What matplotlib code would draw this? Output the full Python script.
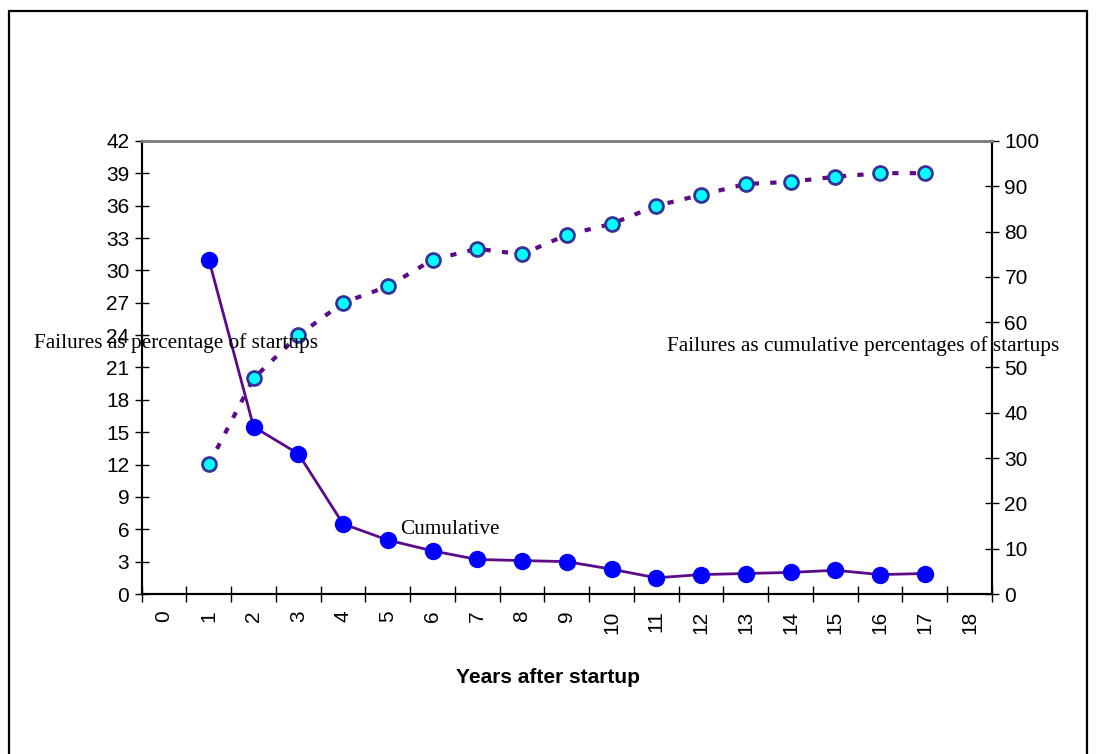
import matplotlib.pyplot as plt
from matplotlib.patches import Rectangle
import numpy as np

# data
categories = list(range(0, 19))
years = list(range(1, 18))
pct_failures = [31, 15.5, 13, 6.5, 5, 4, 3.2, 3.1, 3.0, 2.3, 1.5, 1.8, 1.9, 2.0, 2.2, 1.8, 1.9]
cum_failures = [28.6, 47.6, 57.1, 64.3, 67.9, 73.8, 76.2, 75.0, 79.3, 81.7, 85.7, 88.1, 90.5, 91.0, 92.1, 92.9, 92.9]
left_ticks = list(range(0, 43, 3))
right_ticks = list(range(0, 101, 10))

line_col = '#5c0a87'
sans = ['Liberation Sans', 'DejaVu Sans']
serif = ['Liberation Serif', 'DejaVu Serif']

fig = plt.figure(figsize=(10.97, 7.54), dpi=100)
ax = fig.add_axes([0.1292, 0.2122, 0.775, 0.6008])
ax2 = ax.twinx()

ax.plot(years, pct_failures, color=line_col, lw=2, marker='o', ms=11.5,
        mfc='#0000ff', mec='#0000ff', zorder=3, clip_on=False)
ax2.plot(years, cum_failures, color=line_col, lw=3, ls=(0, (1.5, 2.7)),
         marker='o', ms=10, mfc='#00ffff', mec='#333399', mew=2, zorder=3, clip_on=False)

ax.set_xlim(-0.5, 18.5)
ax.set_ylim(0, 42)
ax2.set_ylim(0, 100)
ax.set_yticks(left_ticks)
ax2.set_yticks(right_ticks)
ax.set_xticks(categories)
ax.set_xticklabels([str(c) for c in categories], rotation=90, family=sans, fontsize=15)
ax.set_xticks(np.arange(-0.5, 19, 1), minor=True)
ax.tick_params(axis='x', which='major', length=0, pad=12)
ax.tick_params(axis='x', which='minor', direction='inout', length=12, width=1)
ax.tick_params(axis='y', direction='inout', length=10, width=1, pad=4)
ax2.tick_params(axis='y', direction='inout', length=10, width=1, pad=4)
for lab in ax.get_yticklabels() + ax2.get_yticklabels():
    lab.set_family(sans)
    lab.set_fontsize(15)

for a in (ax, ax2):
    a.spines['top'].set_color('#808080')
    a.spines['top'].set_linewidth(2)
    a.spines['left'].set_linewidth(1.5)
    a.spines['bottom'].set_linewidth(1.5)
    a.spines['right'].set_linewidth(1.5)

ax.set_xlabel('Years after startup', family=sans, fontsize=15, fontweight='bold')
ax.xaxis.set_label_coords(0.478, -0.163)

fig.text(34 / 1097, 1 - 343 / 754, 'Failures as percentage of startups',
         family=serif, fontsize=15.3, va='center', ha='left')
fig.text(667 / 1097, 1 - 346 / 754, 'Failures as cumulative percentages of startups',
         family=serif, fontsize=15.3, va='center', ha='left')
fig.text(400 / 1097, 1 - 530 / 754, 'Cumulative',
         family=serif, fontsize=15.3, va='center', ha='left')

fig.patches.append(Rectangle((9 / 1097, -0.05), 1078 / 1097, 1.05 - 11 / 754,
                             transform=fig.transFigure, fill=False, lw=1.6, ec='black'))

fig.savefig('out.png', dpi=100)
